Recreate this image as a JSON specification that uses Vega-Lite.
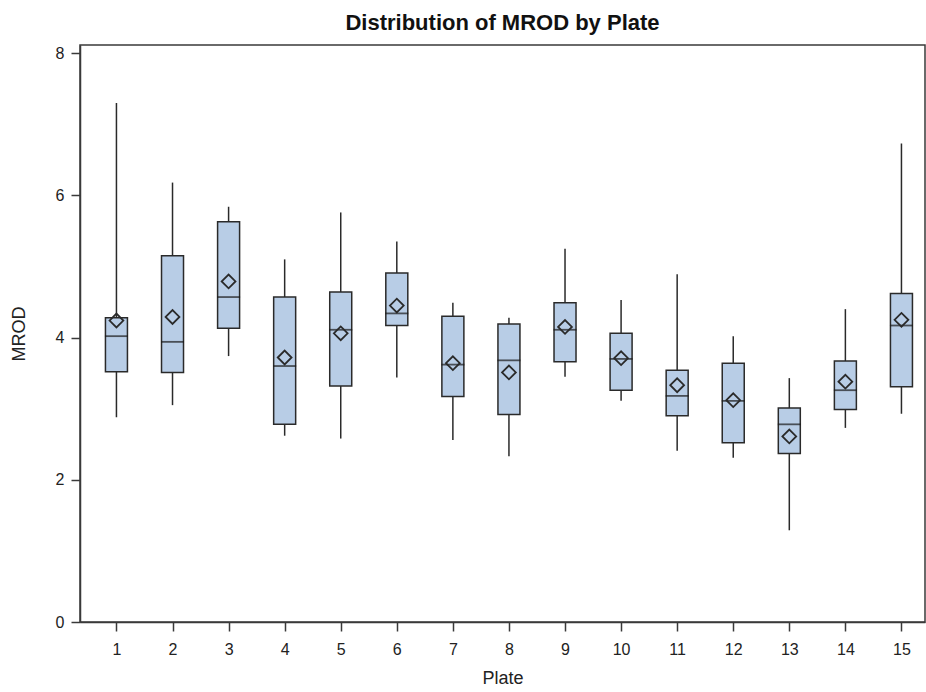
{
  "$schema": "https://vega.github.io/schema/vega-lite/v6.json",
  "width": 845,
  "height": 577,
  "autosize": {"type": "none"},
  "padding": {"left": 80, "top": 45, "right": 1, "bottom": 70},
  "background": "white",
  "config": {
    "font": "Liberation Sans",
    "view": {"stroke": "#3a3a3a", "strokeWidth": 1.5},
    "axis": {
      "domainColor": "#3a3a3a",
      "domainWidth": 1.5,
      "tickColor": "#3a3a3a",
      "tickWidth": 1.5,
      "tickSize": 9,
      "grid": false,
      "labelFont": "Liberation Sans",
      "labelFontSize": 16,
      "labelColor": "#222",
      "titleFont": "Liberation Sans",
      "titleFontSize": 18,
      "titleFontWeight": "normal",
      "titleColor": "#222"
    }
  },
  "title": {
    "text": "Distribution of MROD by Plate",
    "font": "Liberation Sans",
    "fontSize": 22,
    "fontWeight": "bold",
    "color": "#111",
    "anchor": "middle",
    "offset": 10
  },
  "data": {
    "values": [
      {"Plate": 1, "min": 2.88, "q1": 3.52, "median": 4.02, "q3": 4.28, "max": 7.30, "mean": 4.24},
      {"Plate": 2, "min": 3.05, "q1": 3.51, "median": 3.94, "q3": 5.15, "max": 6.18, "mean": 4.29},
      {"Plate": 3, "min": 3.74, "q1": 4.13, "median": 4.57, "q3": 5.63, "max": 5.84, "mean": 4.79},
      {"Plate": 4, "min": 2.62, "q1": 2.78, "median": 3.60, "q3": 4.57, "max": 5.10, "mean": 3.72},
      {"Plate": 5, "min": 2.58, "q1": 3.32, "median": 4.11, "q3": 4.64, "max": 5.76, "mean": 4.06},
      {"Plate": 6, "min": 3.44, "q1": 4.17, "median": 4.34, "q3": 4.91, "max": 5.35, "mean": 4.45},
      {"Plate": 7, "min": 2.56, "q1": 3.17, "median": 3.62, "q3": 4.30, "max": 4.49, "mean": 3.64},
      {"Plate": 8, "min": 2.33, "q1": 2.92, "median": 3.68, "q3": 4.19, "max": 4.28, "mean": 3.51},
      {"Plate": 9, "min": 3.45, "q1": 3.66, "median": 4.11, "q3": 4.49, "max": 5.25, "mean": 4.15},
      {"Plate": 10, "min": 3.11, "q1": 3.26, "median": 3.70, "q3": 4.06, "max": 4.53, "mean": 3.71},
      {"Plate": 11, "min": 2.41, "q1": 2.90, "median": 3.18, "q3": 3.54, "max": 4.89, "mean": 3.33},
      {"Plate": 12, "min": 2.31, "q1": 2.52, "median": 3.11, "q3": 3.64, "max": 4.02, "mean": 3.12},
      {"Plate": 13, "min": 1.29, "q1": 2.37, "median": 2.78, "q3": 3.01, "max": 3.43, "mean": 2.61},
      {"Plate": 14, "min": 2.73, "q1": 2.99, "median": 3.26, "q3": 3.67, "max": 4.40, "mean": 3.38},
      {"Plate": 15, "min": 2.93, "q1": 3.31, "median": 4.17, "q3": 4.62, "max": 6.73, "mean": 4.25}
    ]
  },
  "encoding": {
    "x": {
      "field": "Plate",
      "type": "quantitative",
      "scale": {"domain": [0.35, 15.42], "nice": false, "zero": false, "padding": 0},
      "axis": {"values": [1,2,3,4,5,6,7,8,9,10,11,12,13,14,15], "format": "d", "labelPadding": 10, "titlePadding": 12, "title": "Plate"}
    }
  },
  "layer": [
    {
      "mark": {"type": "rule", "color": "#2a2a2a", "strokeWidth": 1.5},
      "encoding": {
        "y": {
          "field": "min",
          "type": "quantitative",
          "scale": {"domain": [0, 8.115], "nice": false, "padding": 0},
          "axis": {"values": [0, 2, 4, 6, 8], "format": "d", "labelPadding": 7, "titlePadding": 27, "title": "MROD"}
        },
        "y2": {"field": "max"}
      }
    },
    {
      "mark": {"type": "bar", "size": 22, "fill": "#B8CDE6", "stroke": "#2a2a2a", "strokeWidth": 1.5},
      "encoding": {
        "y": {"field": "q1", "type": "quantitative"},
        "y2": {"field": "q3"}
      }
    },
    {
      "mark": {"type": "tick", "orient": "horizontal", "size": 23, "thickness": 1.8, "color": "#1a1a1a"},
      "encoding": {
        "y": {"field": "median", "type": "quantitative"}
      }
    },
    {
      "mark": {"type": "point", "shape": "diamond", "filled": false, "size": 190, "stroke": "#2a2a2a", "strokeWidth": 1.8, "opacity": 1},
      "encoding": {
        "y": {"field": "mean", "type": "quantitative"}
      }
    }
  ]
}
